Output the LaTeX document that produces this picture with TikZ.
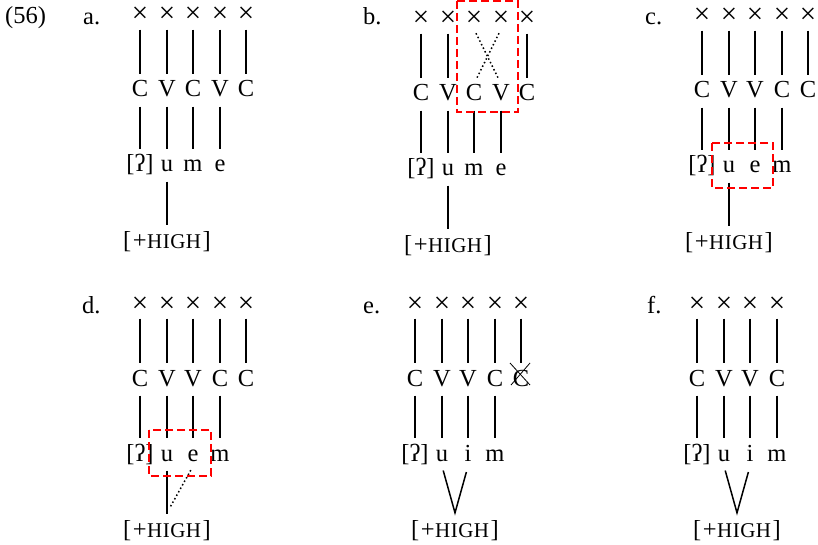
\documentclass[tikz,border=0pt]{standalone}
\usepackage{fontspec}
\setmainfont{Liberation Serif}
\definecolor{boxred}{RGB}{255,0,0}
\newcommand{\xslot}{{\fontsize{29}{29}\selectfont ×}}
\newcommand{\cvtiers}[5]{%
  \foreach \lab [count=\k] in {#4} {%
    \pgfmathsetmacro{\cx}{round(#2+26.5*(\k-1))}%
    \node[seg,text depth=2pt] (#1x\k) at (\cx,#3+9) {\xslot};%
    \node[seg] (#1c\k) at (\cx,#3+83) {\lab};%
  }%
  \foreach \lab [count=\k] in {#5} {%
    \pgfmathsetmacro{\cx}{round(#2+26.5*(\k-1))}%
    \node[seg] (#1s\k) at (\cx,#3+158) {\lab};%
  }%
}
\newcommand{\plushigh}{[\kern1.5pt+\kern0.5pt{\fontsize{21}{24}\selectfont H\kern0.5pt I\kern0.5pt G\kern0.5pt H}\kern1.5pt]}

\begin{document}
\begin{tikzpicture}[x=1pt,y=-1pt,font=\fontsize{24.5}{28}\selectfont,
  seg/.style={anchor=base,inner sep=0pt,text height=17pt,text depth=5pt},
  assoc/.style={line width=1.5pt,shorten <=4.5pt,shorten >=6pt},
  delink/.style={assoc,dash pattern=on 1.5pt off 2.5pt},
  hilite/.style={boxred,line width=1.4pt,dash pattern=on 8pt off 4pt},
  strike/.style={line width=0.8pt}]
  \useasboundingbox (0,0) rectangle (818,545);
  \node[anchor=base west,inner sep=0pt] (exno) at (5,24) {(56)};
  % a.
  \node[anchor=base west,inner sep=0pt] (alab) at (83,25) {a.};
  \cvtiers{a}{140}{14}{C,V,C,V,C}{{[ʔ]},u,m,e}
  \node[seg] (ah) at (167,14+234) {\plushigh};
  \foreach \k in {1,...,5} \draw[assoc] (ax\k) -- (ac\k);
  \foreach \k in {1,...,4} \draw[assoc] (ac\k) -- (as\k);
  \draw[assoc] (as2) -- (ah);
  % b.
  \node[anchor=base west,inner sep=0pt] (blab) at (363,25) {b.};
  \cvtiers{b}{421}{18}{C,V,C,V,C}{{[ʔ]},u,m,e}
  \node[seg] (bh) at (448,18+234) {\plushigh};
  \foreach \k in {1,2,5} \draw[assoc] (bx\k) -- (bc\k);
  \draw[delink] (bx3.south) -- (bc4.north);
  \draw[delink] (bx4.south) -- (bc3.north);
  \foreach \k in {1,...,4} \draw[assoc] (bc\k) -- (bs\k);
  \draw[assoc] (bs2) -- (bh);
  \draw[hilite] (457,1) rectangle (518,112);
  % c.
  \node[anchor=base west,inner sep=0pt] (clab) at (645,25) {c.};
  \cvtiers{c}{702}{15}{C,V,V,C,C}{{[ʔ]},u,e,m}
  \node[seg] (ch) at (729,15+234) {\plushigh};
  \foreach \k in {1,...,5} \draw[assoc] (cx\k) -- (cc\k);
  \foreach \k in {1,...,4} \draw[assoc] (cc\k) -- (cs\k);
  \draw[assoc] (cs2) -- (ch);
  \draw[hilite] (712,143) rectangle (773,188);
  % d.
  \node[anchor=base west,inner sep=0pt] (dlab) at (82,313) {d.};
  \cvtiers{d}{140}{303}{C,V,V,C,C}{{[ʔ]},u,e,m}
  \node[seg] (dh) at (167,303+234) {\plushigh};
  \foreach \k in {1,...,5} \draw[assoc] (dx\k) -- (dc\k);
  \foreach \k in {1,...,4} \draw[assoc] (dc\k) -- (ds\k);
  \draw[assoc] (ds2) -- (dh);
  \draw[delink] (ds3.south) -- ([yshift=7pt]dh.north);
  \draw[hilite] (149,430) rectangle (211,476);
  % e.
  \node[anchor=base west,inner sep=0pt] (elab) at (363,313) {e.};
  \cvtiers{e}{415}{303}{C,V,V,C,C}{{[ʔ]},u,i,m}
  \node[seg] (eh) at (455,303+234) {\plushigh};
  \foreach \k in {1,...,5} \draw[assoc] (ex\k) -- (ec\k);
  \foreach \k in {1,...,4} \draw[assoc] (ec\k) -- (es\k);
  \draw[assoc] (es2.south) -- ([yshift=7pt]eh.north) -- (es3.south);
  \draw[strike] ([shift={(-11,-17)}]ec5.center) -- ([shift={(9,5)}]ec5.center);
  \draw[strike] ([shift={(9,-17)}]ec5.center) -- ([shift={(-10,5)}]ec5.center);
  % f.
  \node[anchor=base west,inner sep=0pt] (flab) at (647,313) {f.};
  \cvtiers{f}{697}{303}{C,V,V,C}{{[ʔ]},u,i,m}
  \node[seg] (fh) at (737,303+234) {\plushigh};
  \foreach \k in {1,...,4} \draw[assoc] (fx\k) -- (fc\k);
  \foreach \k in {1,...,4} \draw[assoc] (fc\k) -- (fs\k);
  \draw[assoc] (fs2.south) -- ([yshift=7pt]fh.north) -- (fs3.south);
\end{tikzpicture}
\end{document}
